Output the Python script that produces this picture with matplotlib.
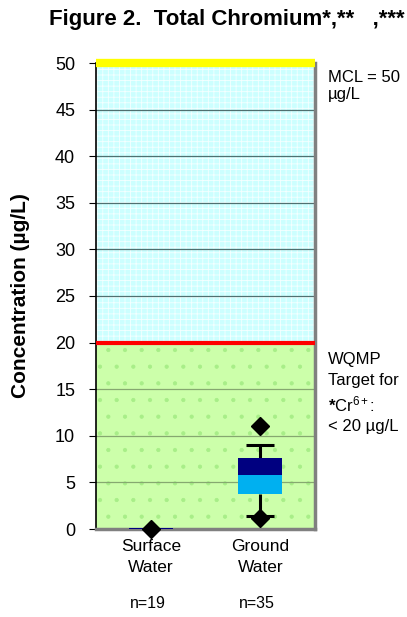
import matplotlib
matplotlib.use("Agg")
import matplotlib.pyplot as plt
from matplotlib.patches import Rectangle

plt.rcParams['font.family'] = ['Liberation Sans', 'DejaVu Sans']
plt.rcParams['mathtext.fontset'] = 'custom'
plt.rcParams['mathtext.rm'] = 'Liberation Sans'
plt.rcParams['mathtext.it'] = 'Liberation Sans:italic'
plt.rcParams['mathtext.bf'] = 'Liberation Sans:bold'
plt.rcParams['hatch.linewidth'] = 0.6

# Data
categories = ["Surface\nWater", "Ground\nWater"]
sample_counts = ["n=19", "n=35"]
whisker_low = [0.0, 1.35]
q1 = [0.0, 3.8]
median = [0.05, 5.8]
q3 = [0.1, 7.6]
whisker_high = [0.1, 9.0]
min_points = [0.0, 1.15]
max_points = [None, 11.0]

mcl = 50
target = 20
yticks = [0, 5, 10, 15, 20, 25, 30, 35, 40, 45, 50]

fig = plt.figure(figsize=(4.07, 6.17), dpi=100)
ax = fig.add_axes([96/407, (617-529)/617, 219/407, 466/617])
ax.set_xlim(0.5, 2.5)
ax.set_ylim(0, 50)

# Background zones
ax.add_patch(Rectangle((0.5, target), 2.0, mcl - target, facecolor='#ccffff',
                       edgecolor='#f4ffff', hatch='+++', lw=0, zorder=0))
ax.add_patch(Rectangle((0.5, 0), 2.0, target, facecolor='#ccffaa',
                       edgecolor='#a8ee88', hatch='.', lw=0, zorder=0))

# Gridlines
for y in yticks[1:-1]:
    if y == target:
        continue
    col = '#507070' if y > target else '#86a870'
    ax.axhline(y, color=col, lw=0.9, zorder=1)

# Threshold lines
ax.axhline(mcl, color='#ffff00', lw=6, zorder=5, clip_on=False, solid_capstyle='butt')
ax.axhline(target, color='#ff0000', lw=3, zorder=5, solid_capstyle='butt')

pos = [1, 2]
width = 0.4
for i, p in enumerate(pos):
    # whiskers and caps
    if whisker_high[i] > q3[i]:
        ax.vlines(p, q3[i], whisker_high[i], color='black', lw=2.2, zorder=6)
        ax.hlines(whisker_high[i], p - 0.13, p + 0.13, color='black', lw=2.2, zorder=6)
    if whisker_low[i] < q1[i]:
        ax.vlines(p, whisker_low[i], q1[i], color='black', lw=2.2, zorder=6)
        ax.hlines(whisker_low[i], p - 0.13, p + 0.13, color='black', lw=2.2, zorder=6)
    # box halves
    ax.bar(p, median[i] - q1[i], bottom=q1[i], width=width, color='#00b0f0', lw=0, zorder=7)
    ax.bar(p, q3[i] - median[i], bottom=median[i], width=width, color='#000080', lw=0, zorder=7)
    # extremes
    ax.plot(p, min_points[i], marker='D', ms=9, color='black', zorder=8, clip_on=False)
    if max_points[i] is not None:
        ax.plot(p, max_points[i], marker='D', ms=9, color='black', zorder=8)

# Axes styling
ax.set_yticks(yticks)
ax.set_yticklabels([str(t) for t in yticks], fontsize=13)
ax.tick_params(axis='y', length=5, width=0.8, pad=10)
ax.set_xticks(pos)
ax.set_xticklabels(categories, fontsize=12.5, linespacing=1.5)
ax.tick_params(axis='x', length=0, pad=7)
ax.spines['top'].set_visible(False)
ax.spines['left'].set_color('black')
ax.spines['left'].set_linewidth(1.2)
ax.spines['right'].set_color('#808080')
ax.spines['right'].set_linewidth(2.5)
ax.spines['bottom'].set_color('#808080')
ax.spines['bottom'].set_linewidth(2.5)

ax.set_ylabel("Concentration (µg/L)", fontsize=15, fontweight='bold', labelpad=18)

for p, n in zip(pos, sample_counts):
    ax.text(p - 0.03, -8.0, n, transform=ax.transData, ha='center', va='center', fontsize=11.5)

# Annotations
fs = 12
fig.text(328/407, 1 - 77/617, "MCL = 50", fontsize=fs, va='center')
fig.text(328/407, 1 - 95/617, "µg/L", fontsize=fs, va='center')
fig.text(328/407, 1 - 360/617, "WQMP", fontsize=fs, va='center')
fig.text(328/407, 1 - 381/617, "Target for", fontsize=fs, va='center')
fig.text(328/407, 1 - 404/617, r"$\mathbf{*}$Cr$^{6+}$:", fontsize=fs, va='center')
fig.text(328/407, 1 - 426/617, "< 20 µg/L", fontsize=fs, va='center')

fig.text(227/407, 1 - 19/617, "Figure 2.  Total Chromium*,**   ,***",
         fontsize=16, fontweight='bold', ha='center', va='center')

fig.savefig("out.png", dpi=100)
